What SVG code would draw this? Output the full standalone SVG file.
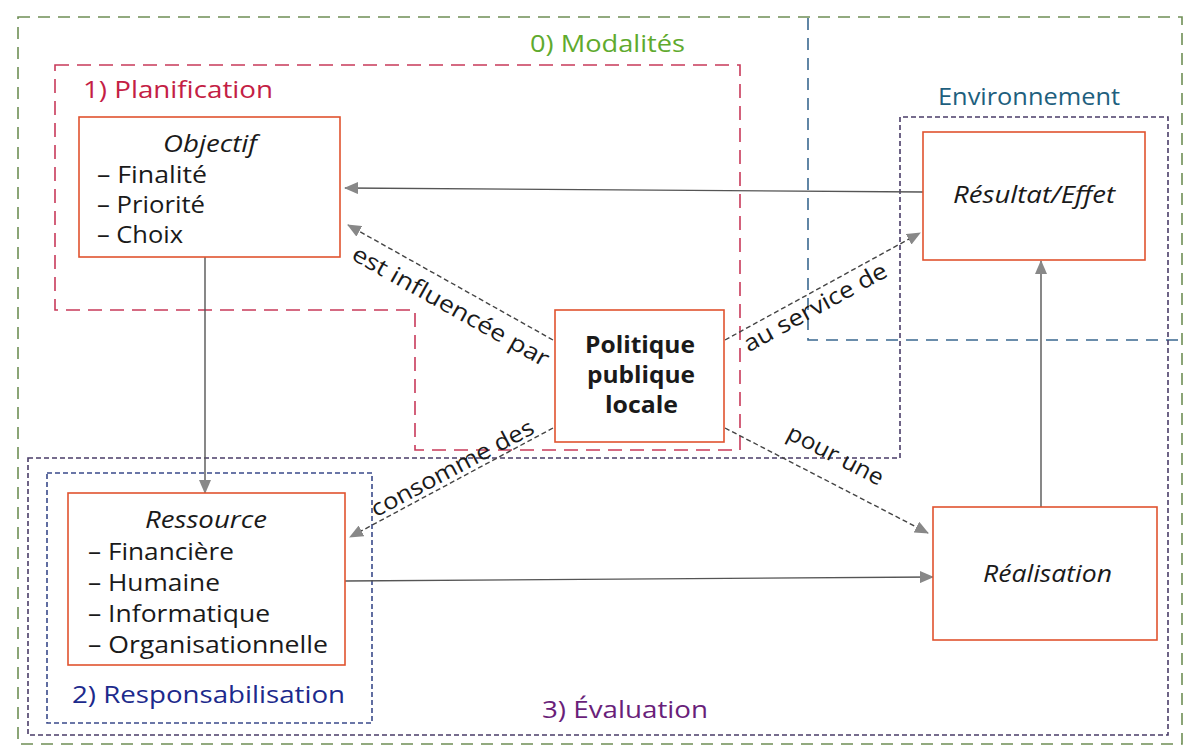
<svg xmlns="http://www.w3.org/2000/svg" width="1194" height="749" viewBox="0 0 1194 749">
<style>
text{font-family:"Open Sans","Noto Sans","Liberation Sans",sans-serif;fill:#1a1a1a}
.node{fill:#fff;stroke:#e0532f;stroke-width:1.6}
.it{font-style:italic;font-size:23px}
.item{font-size:23px}
.bold{font-weight:bold;font-size:24px}
.lbl{font-size:23px}
.zt{font-size:24px}
.zone{fill:none;stroke-width:1.6}
.solid{fill:none;stroke:#555;stroke-width:1.4}
.dash{fill:none;stroke:#444;stroke-width:1.4;stroke-dasharray:5 3}
</style>
<defs>
<marker id="ah" markerUnits="userSpaceOnUse" markerWidth="14" markerHeight="12" refX="13" refY="6" orient="auto">
<path d="M0,0 L14,6 L0,12 Z" fill="#888"/>
</marker>
</defs>
<rect width="1194" height="749" fill="#fff"/>

<g id="zones">
<rect id="modalites" class="zone" x="18" y="17" width="1164" height="727" stroke="#6f8f55" stroke-dasharray="12 8"/>
<path id="planification" class="zone" d="M55,65 H740 V450 H415 V310 H55 Z" stroke="#c83a5a" stroke-dasharray="14 8"/>
<path id="environnement" class="zone" d="M808,18 V340 H1182" stroke="#3a6890" stroke-dasharray="12 8"/>
<path id="evaluation" class="zone" d="M28,458 H900 V117 H1168 V735 H28 Z" stroke="#4a3d68" stroke-dasharray="5 3"/>
<rect id="responsabilisation" class="zone" x="47" y="473" width="325" height="250" stroke="#3a4a8a" stroke-dasharray="5 3"/>
<text class="zt" x="530" y="52" textLength="155" lengthAdjust="spacingAndGlyphs" style="fill:#5faa2e">0) Modalités</text>
<text class="zt" x="83" y="98" textLength="190" lengthAdjust="spacingAndGlyphs" style="fill:#c41e45">1) Planification</text>
<text class="zt" x="938" y="105" textLength="182" lengthAdjust="spacingAndGlyphs" style="fill:#1e5f7e">Environnement</text>
<text class="zt" x="72" y="703" textLength="273" lengthAdjust="spacingAndGlyphs" style="fill:#1c2a8c">2) Responsabilisation</text>
<text class="zt" x="542" y="718" textLength="166" lengthAdjust="spacingAndGlyphs" style="fill:#6a1f7a">3) Évaluation</text>
</g>

<g id="connectors">
<path class="solid" d="M923,192 L345,188" marker-end="url(#ah)"/>
<path class="solid" d="M205,257 L205,493" marker-end="url(#ah)"/>
<path class="solid" d="M345,581 L933,577" marker-end="url(#ah)"/>
<path class="solid" d="M1041,507 L1041,261" marker-end="url(#ah)"/>
<path class="dash" d="M553,340 L348,225" marker-end="url(#ah)"/>
<path class="dash" d="M725,340 L920,233" marker-end="url(#ah)"/>
<path class="dash" d="M553,428 L350,537" marker-end="url(#ah)"/>
<path class="dash" d="M725,428 L928,533" marker-end="url(#ah)"/>
<text class="lbl" text-anchor="middle" textLength="222" lengthAdjust="spacingAndGlyphs" transform="translate(447,313) rotate(29.3)">est influencée par</text>
<text class="lbl" text-anchor="middle" textLength="160" lengthAdjust="spacingAndGlyphs" transform="translate(819,314) rotate(-28.7)">au service de</text>
<text class="lbl" text-anchor="middle" textLength="181" lengthAdjust="spacingAndGlyphs" transform="translate(456,475) rotate(-28)">consomme des</text>
<text class="lbl" text-anchor="middle" textLength="105" lengthAdjust="spacingAndGlyphs" transform="translate(832,462) rotate(27.3)">pour une</text>
</g>

<g id="objectif">
<rect class="node" x="79" y="117" width="261" height="140"/>
<text class="it" x="163" y="152" textLength="94" lengthAdjust="spacingAndGlyphs">Objectif</text>
<text class="item" x="97" y="183" textLength="110" lengthAdjust="spacingAndGlyphs">– Finalité</text>
<text class="item" x="97" y="213" textLength="108" lengthAdjust="spacingAndGlyphs">– Priorité</text>
<text class="item" x="97" y="243" textLength="86" lengthAdjust="spacingAndGlyphs">– Choix</text>
</g>

<g id="resultat">
<rect class="node" x="923" y="132" width="222" height="128"/>
<text class="it" x="953" y="203" textLength="162" lengthAdjust="spacingAndGlyphs">Résultat/Effet</text>
</g>

<g id="politique">
<rect class="node" x="555" y="310" width="169" height="132"/>
<text class="bold" x="585" y="353" textLength="110" lengthAdjust="spacingAndGlyphs">Politique</text>
<text class="bold" x="587" y="383" textLength="108" lengthAdjust="spacingAndGlyphs">publique</text>
<text class="bold" x="605" y="413" textLength="73" lengthAdjust="spacingAndGlyphs">locale</text>
</g>

<g id="ressource">
<rect class="node" x="68" y="493" width="277" height="172"/>
<text class="it" x="145" y="528" textLength="122" lengthAdjust="spacingAndGlyphs">Ressource</text>
<text class="item" x="88" y="560" textLength="146" lengthAdjust="spacingAndGlyphs">– Financière</text>
<text class="item" x="88" y="591" textLength="132" lengthAdjust="spacingAndGlyphs">– Humaine</text>
<text class="item" x="88" y="622" textLength="182" lengthAdjust="spacingAndGlyphs">– Informatique</text>
<text class="item" x="88" y="653" textLength="240" lengthAdjust="spacingAndGlyphs">– Organisationnelle</text>
</g>

<g id="realisation">
<rect class="node" x="933" y="507" width="224" height="133"/>
<text class="it" x="983" y="582" textLength="129" lengthAdjust="spacingAndGlyphs">Réalisation</text>
</g>
</svg>
